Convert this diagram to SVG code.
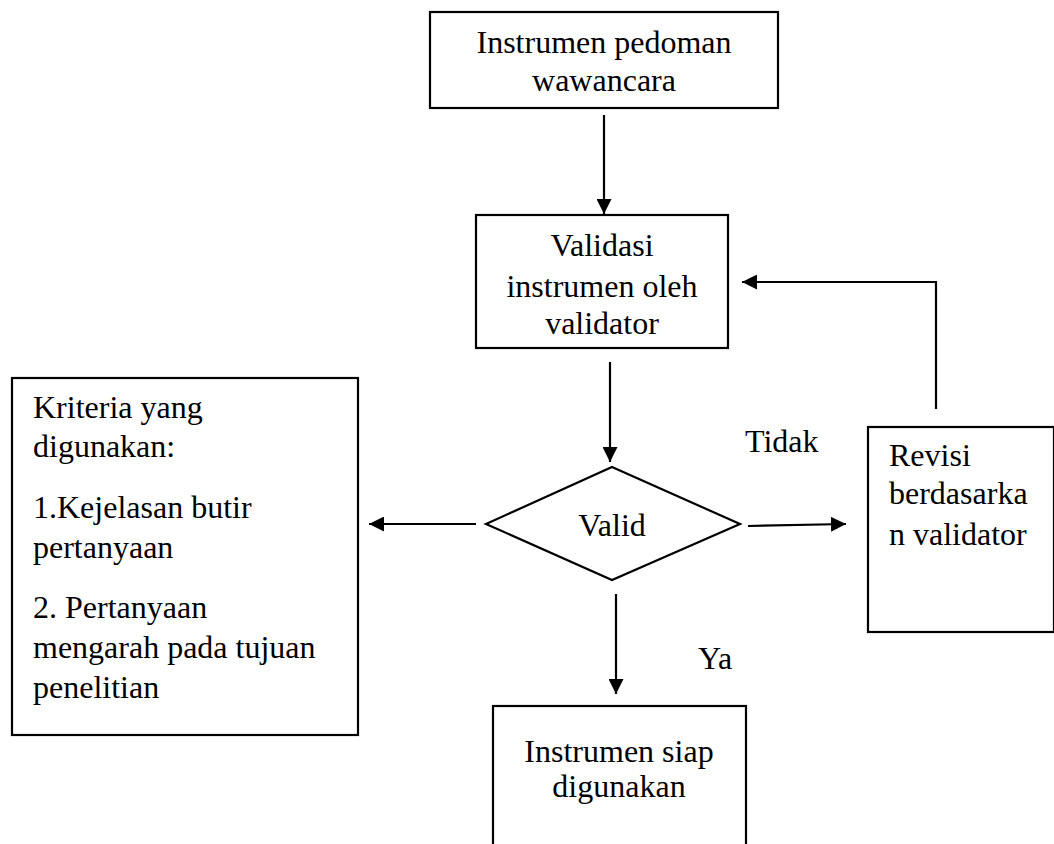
<svg xmlns="http://www.w3.org/2000/svg" width="1054" height="844" viewBox="0 0 1054 844" font-family="'Liberation Serif', 'Times New Roman', Times, 'DejaVu Serif', serif">
<style>
.box{fill:#fff;stroke:#000;stroke-width:2.2}
.t{font-family:'Liberation Serif','Times New Roman',Times,'DejaVu Serif',serif;font-size:32px;fill:#000}
.c{text-anchor:middle}
.ln{fill:none;stroke:#000;stroke-width:2.2}
</style>
<defs>
<marker id="ah" markerWidth="15" markerHeight="15" viewBox="0 0 15 15" refX="15" refY="7.5" orient="auto" markerUnits="userSpaceOnUse">
<path d="M0,0 L15,7.5 L0,15 Z" fill="#000"/>
</marker>
</defs>
<rect width="1054" height="844" fill="#fff"/>
<g id="connectors">
<line class="ln" x1="604" y1="115" x2="604" y2="214" marker-end="url(#ah)"/>
<line class="ln" x1="610" y1="362" x2="610" y2="462" marker-end="url(#ah)"/>
<line class="ln" x1="476" y1="524" x2="369" y2="524" marker-end="url(#ah)"/>
<line class="ln" x1="748" y1="526" x2="846" y2="524" marker-end="url(#ah)"/>
<polyline class="ln" points="936,409 936,282 742,282" marker-end="url(#ah)"/>
<line class="ln" x1="616" y1="594" x2="616" y2="694" marker-end="url(#ah)"/>
<text class="t" x="745" y="452">Tidak</text>
<text class="t" x="698" y="669">Ya</text>
</g>
<g id="node-top">
<rect class="box" x="430" y="12" width="348" height="96"/>
<text class="t c" x="604" y="53">Instrumen pedoman</text>
<text class="t c" x="604" y="91">wawancara</text>
</g>
<g id="node-validasi">
<rect class="box" x="476" y="215" width="252" height="133"/>
<text class="t c" x="602" y="256">Validasi</text>
<text class="t c" x="602" y="297">instrumen oleh</text>
<text class="t c" x="602" y="334">validator</text>
</g>
<g id="node-valid">
<polygon class="box" points="612,467 740,524 612,580 486,524"/>
<text class="t c" x="612" y="536">Valid</text>
</g>
<g id="node-kriteria">
<rect class="box" x="12" y="378" width="346" height="357"/>
<text class="t" x="33" y="418">Kriteria yang</text>
<text class="t" x="33" y="457">digunakan:</text>
<text class="t" x="33" y="518">1.Kejelasan butir</text>
<text class="t" x="33" y="558">pertanyaan</text>
<text class="t" x="33" y="618">2. Pertanyaan</text>
<text class="t" x="33" y="658">mengarah pada tujuan</text>
<text class="t" x="33" y="698">penelitian</text>
</g>
<g id="node-revisi">
<rect class="box" x="868" y="427" width="186" height="205"/>
<text class="t" x="889" y="466">Revisi</text>
<text class="t" x="889" y="504">berdasarka</text>
<text class="t" x="889" y="545">n validator</text>
</g>
<g id="node-siap">
<rect class="box" x="493" y="706" width="253" height="160"/>
<text class="t c" x="619" y="762">Instrumen siap</text>
<text class="t c" x="619" y="797">digunakan</text>
</g>
</svg>
